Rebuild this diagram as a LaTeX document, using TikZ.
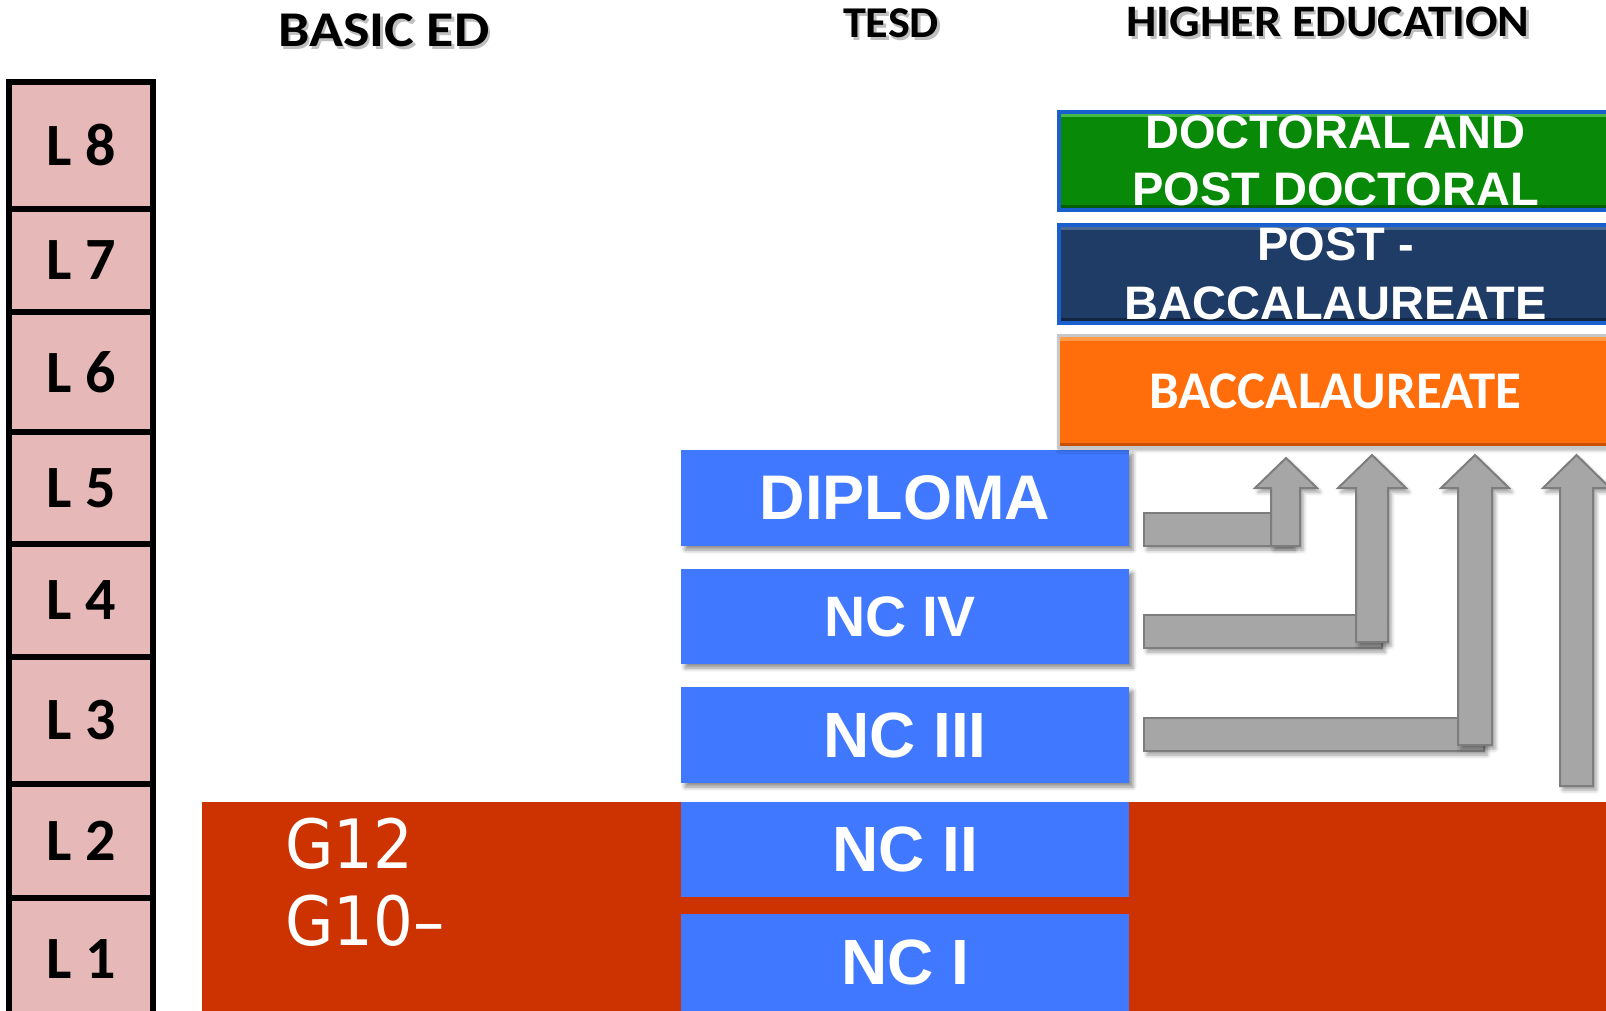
\documentclass[tikz,border=0pt]{standalone}
\usepackage{fontspec}
\setmainfont{Carlito}
\newfontfamily\arialf{Liberation Sans}
\newfontfamily\gfont{DejaVu Sans}
\usetikzlibrary{shadows.blur}
\definecolor{pinkL}{RGB}{230,184,183}
\definecolor{redB}{RGB}{204,51,0}
\definecolor{blueB}{RGB}{64,120,255}
\definecolor{greenD}{RGB}{8,138,8}
\definecolor{greenHi}{RGB}{70,185,70}
\definecolor{greenLo}{RGB}{0,95,0}
\definecolor{navyD}{RGB}{31,60,102}
\definecolor{navyHi}{RGB}{75,105,145}
\definecolor{navyLo}{RGB}{18,38,68}
\definecolor{heblue}{RGB}{25,95,205}
\definecolor{orangeB}{RGB}{255,110,10}
\definecolor{orangeHi}{RGB}{255,155,70}
\definecolor{orangeLo}{RGB}{200,80,0}
\definecolor{arrowgray}{RGB}{166,166,166}
\definecolor{arrowedge}{RGB}{125,125,125}
\begin{document}
\begin{tikzpicture}[x=1pt,y=-1pt,
  hdr/.style={font=\bfseries\fontsize{#1}{#1}\selectfont, inner sep=0pt},
  hdrshadow/.style={hdr=#1, text=black, opacity=0.25},
  lbox/.style={draw=black, line width=6pt, fill=pinkL, minimum width=144pt, inner sep=0pt,
    font=\bfseries\fontsize{60}{60}\selectfont},
  bluebox/.style={fill=blueB, minimum width=448pt, inner sep=0pt, text=white,
    font=\arialf\bfseries\fontsize{64}{64}\selectfont},
  boxshadow/.style={blur shadow={shadow xshift=4pt, shadow yshift=-4pt, shadow blur radius=4pt, shadow opacity=45}},
  bevel/.style 2 args={path picture={
    \fill[#1] (path picture bounding box.north west) rectangle ([yshift=-5pt]path picture bounding box.north east);
    \fill[#2] (path picture bounding box.south west) rectangle ([yshift=5pt]path picture bounding box.south east);}},
  hebox/.style={minimum width=553pt, inner sep=0pt, align=center, text=white,
    font=\arialf\bfseries\fontsize{47}{57}\selectfont},
  gtext/.style={text=white, inner sep=0pt, font=\gfont\fontsize{68}{68}\selectfont},
  grayarrow/.style={fill=arrowgray, draw=arrowedge, line width=2pt, line join=miter,
    blur shadow={shadow xshift=3pt, shadow yshift=-4pt, shadow blur radius=4pt, shadow opacity=40}}
]
\useasboundingbox (0,0) rectangle (1606,1011);
\clip (0,0) rectangle (1606,1011);

% headers
\node[hdrshadow=50, anchor=base] (hbasics) at (386.5,50) {\scalebox{1.12}[1]{BASIC ED}};
\node[hdr=50, anchor=base] (hbasic) at (384,47) {\scalebox{1.12}[1]{BASIC ED}};
\node[hdrshadow=44, anchor=base] (htesds) at (893.5,41) {\scalebox{1.05}[1]{TESD}};
\node[hdr=44, anchor=base] (htesd) at (891,38) {\scalebox{1.05}[1]{TESD}};
\node[hdrshadow=45, anchor=base] (hhighs) at (1330.5,40) {\scalebox{1.07}[1]{HIGHER EDUCATION}};
\node[hdr=45, anchor=base] (hhigh) at (1328,37) {\scalebox{1.07}[1]{HIGHER EDUCATION}};

% level column
\node[lbox, minimum height=127pt] (l8) at (81,145.5) {L 8};
\node[lbox, minimum height=103pt] (l7) at (81,260.5) {L 7};
\node[lbox, minimum height=120pt] (l6) at (81,372) {L 6};
\node[lbox, minimum height=112pt] (l5) at (81,488) {L 5};
\node[lbox, minimum height=113pt] (l4) at (81,600.5) {L 4};
\node[lbox, minimum height=127pt] (l3) at (81,720.5) {L 3};
\node[lbox, minimum height=114pt] (l2) at (81,841) {L 2};
\node[lbox, minimum height=122pt] (l1) at (81,959) {L 1};

% basic education band
\node[fill=redB, minimum width=1410pt, minimum height=215pt, inner sep=0pt, anchor=north west] (basic) at (202,802) {};
\node[gtext, anchor=base west] (g12) at (285,868) {\scalebox{0.92}[1]{G12}};
\node[gtext, anchor=base west] (g10) at (285,945) {\scalebox{0.92}[1]{G10–}};

% TESD boxes
\node[bluebox, boxshadow, minimum height=96pt, font=\arialf\bfseries\fontsize{63}{63}\selectfont] (diploma) at (905,498) {DIPLOMA};
\node[bluebox, boxshadow, minimum height=95pt, font=\arialf\bfseries\fontsize{57}{57}\selectfont] (nciv) at (905,616.5) {\hspace*{-10pt}NC IV};
\node[bluebox, boxshadow, minimum height=96pt] (nciii) at (905,735) {NC III};
\node[bluebox, minimum height=95pt] (ncii) at (905,849.5) {NC II};
\node[bluebox, minimum height=97pt] (nci) at (905,962.5) {NC I};

% higher education boxes
\node[hebox, draw=heblue, line width=4pt, fill=greenD, bevel={greenHi}{greenLo}, minimum height=98pt] (doc) at (1335.5,161) {DOCTORAL AND\\POST DOCTORAL};
\node[hebox, draw=heblue, line width=4pt, fill=navyD, bevel={navyHi}{navyLo}, minimum height=98pt,
  font=\arialf\bfseries\fontsize{47}{59}\selectfont] (postb) at (1335.5,274) {POST -\\BACCALAUREATE};
\node[hebox, draw=black!22, line width=3pt, fill=orangeB, bevel={orangeHi}{orangeLo}, minimum height=112pt,
  font=\bfseries\fontsize{53}{53}\selectfont, blur shadow={shadow xshift=0pt, shadow yshift=-3pt, shadow blur radius=3pt, shadow opacity=30}] (bacc) at (1335.25,391.5) {BACCALAUREATE};

% arrows (from TESD levels into higher education)
\coordinate (a1s) at (1144,513);
\draw[grayarrow] (a1s) rectangle (1292,546);
\draw[grayarrow] (1271,546) -- (1271,488) -- (1255,488) -- (1286,458) -- (1317,488) -- (1300,488) -- (1300,546) -- cycle;

\coordinate (a2s) at (1144,615);
\draw[grayarrow] (a2s) rectangle (1382,648);
\draw[grayarrow] (1356,642) -- (1356,488) -- (1338,488) -- (1372,455) -- (1406,488) -- (1388,488) -- (1388,642) -- cycle;

\coordinate (a3s) at (1144,718);
\draw[grayarrow] (a3s) rectangle (1484,751);
\draw[grayarrow] (1458,745) -- (1458,488) -- (1441,488) -- (1475,455) -- (1509,488) -- (1492,488) -- (1492,745) -- cycle;

\coordinate (a4s) at (1560,786);
\draw[grayarrow] (a4s) -- (1560,488) -- (1543,488) -- (1576.5,455) -- (1610,488) -- (1593,488) -- (1593,786) -- cycle;
\end{tikzpicture}
\end{document}
